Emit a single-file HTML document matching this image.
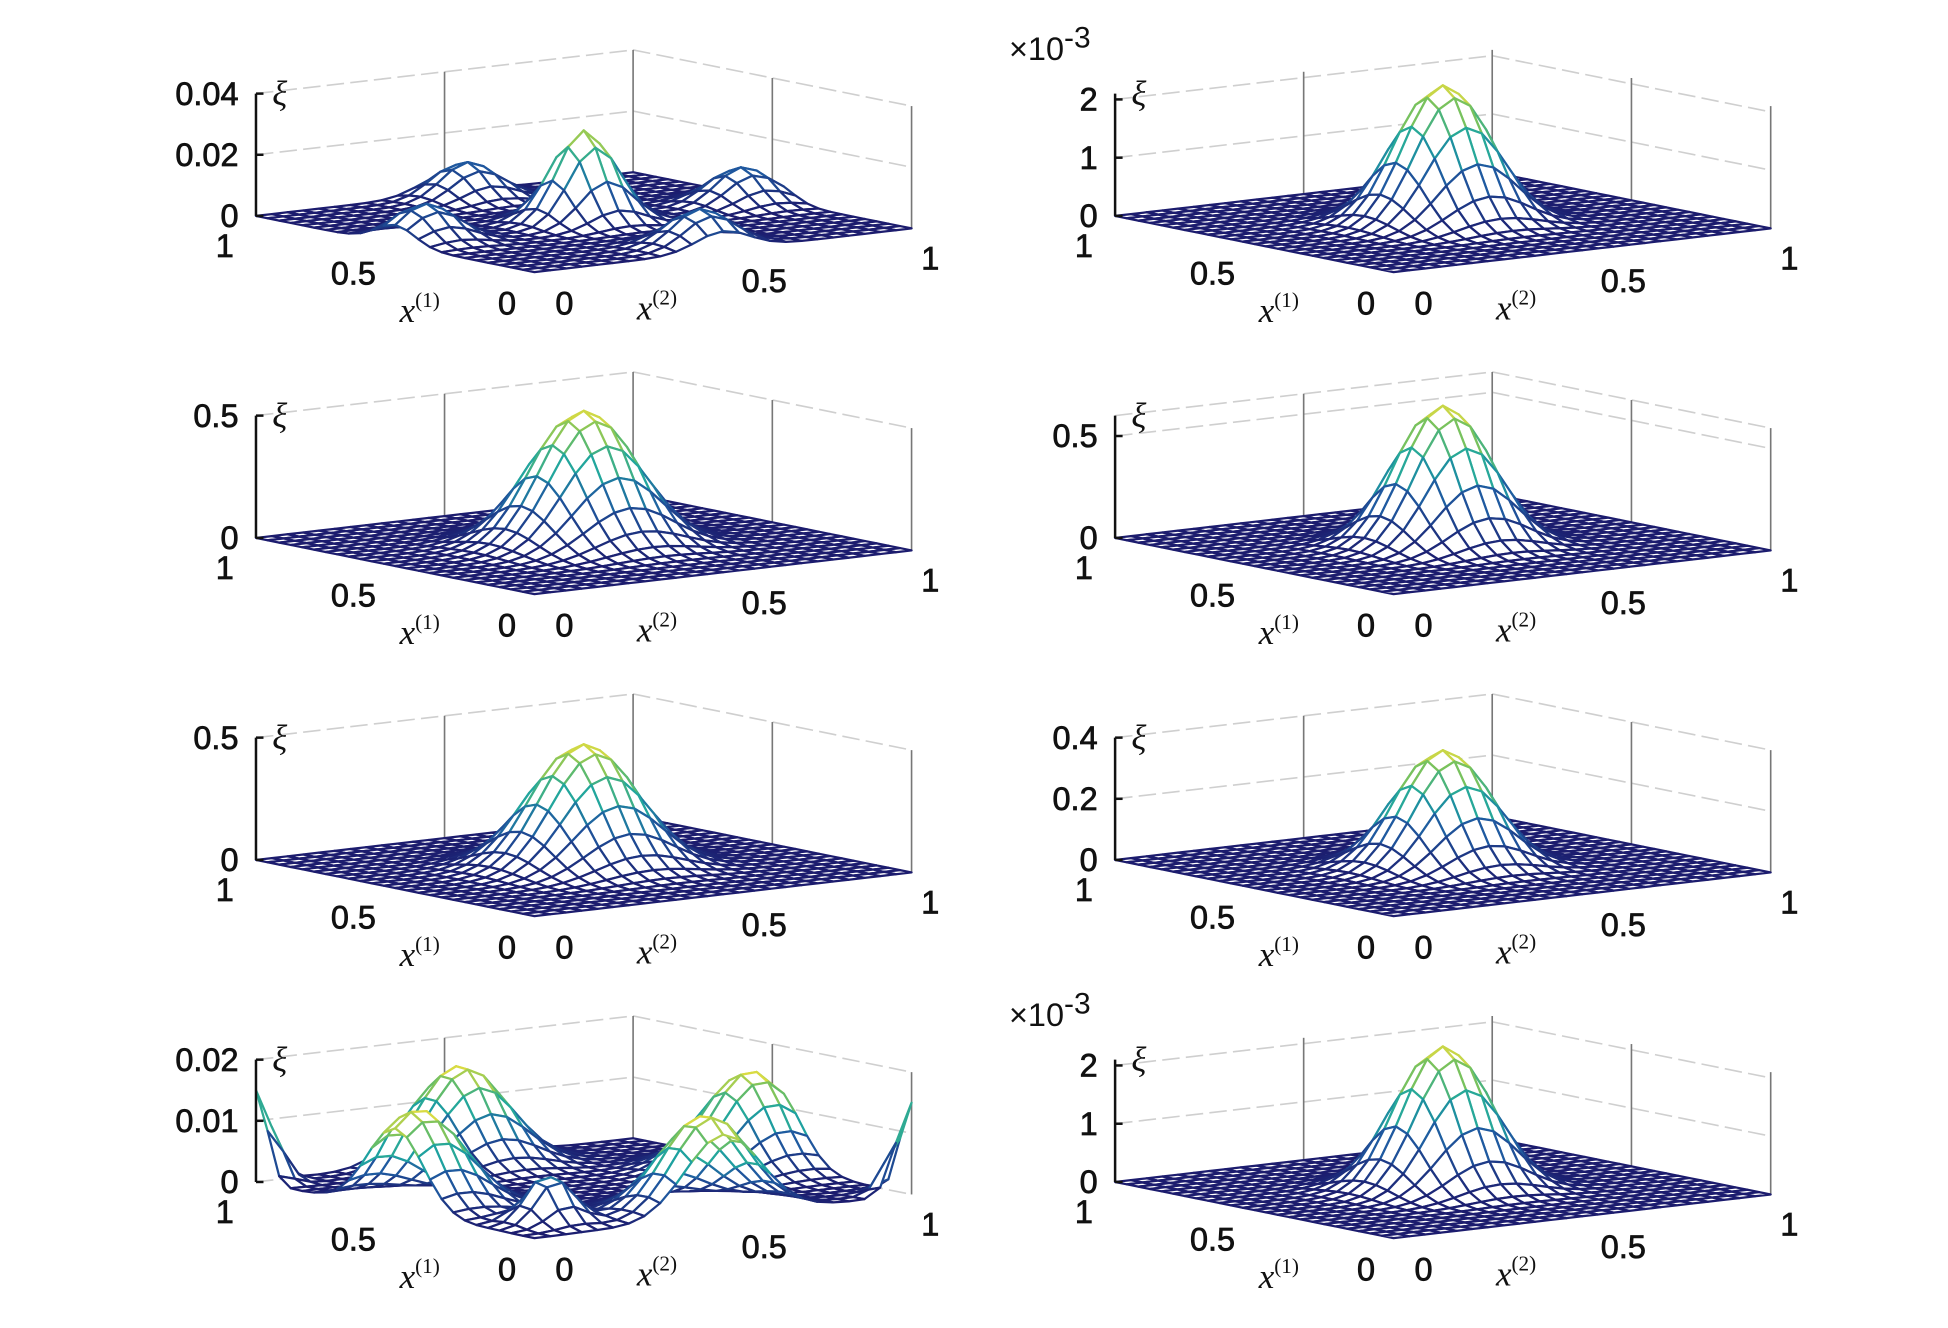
<!DOCTYPE html>
<html><head><meta charset="utf-8"><style>
html,body{margin:0;padding:0;background:#fff;}
svg{display:block;}
text{font-family:"Liberation Sans",sans-serif;}
.tk{font-size:26px;fill:#111;}
.lab{font-family:"Liberation Serif",serif;font-style:italic;font-size:28px;fill:#111;}
.sup{font-family:"Liberation Serif",serif;font-style:normal;font-size:17px;}
</style></head><body>
<svg id="fig" width="1948" height="1328" viewBox="0 0 1560 1064" preserveAspectRatio="none" xmlns="http://www.w3.org/2000/svg"></svg>
<script>
// ---- data per panel (order: L1,R1,L2,R2,L3,R3,L4,R4) ----
const zTops = [0.04, 2.1e-3, 0.5, 0.6, 0.5, 0.4, 0.02, 2.1e-3];
const zTickVals = [[0,0.02,0.04],[0,1e-3,2e-3],[0,0.5],[0,0.5],[0,0.5],[0,0.2,0.4],[0,0.01,0.02],[0,1e-3,2e-3]];
const zTickLabels = [["0","0.02","0.04"],["0","1","2"],["0","0.5"],["0","0.5"],["0","0.5"],["0","0.2","0.4"],["0","0.01","0.02"],["0","1","2"]];
const bumpU = [[0.5,0.5,0.08,0.5,0.92],[0.45,0.45,0.55,0.55],[0.45,0.45,0.55,0.55],[0.45,0.45,0.55,0.55],[0.45,0.45,0.55,0.55],[0.45,0.45,0.55,0.55],[0.5,0.06,0.5,0.94,0.15,1.0,0.0],[0.45,0.45,0.55,0.55]];
const bumpV = [[0.5,0.08,0.5,0.92,0.5],[0.45,0.55,0.45,0.55],[0.45,0.55,0.45,0.55],[0.45,0.55,0.45,0.55],[0.45,0.55,0.45,0.55],[0.45,0.55,0.45,0.55],[0.06,0.5,0.94,0.5,0.15,0.0,1.0],[0.45,0.55,0.45,0.55]];
const bumpA = [[0.03,0.012,0.012,0.012,0.012],[0.83e-3,0.83e-3,0.83e-3,0.83e-3],[0.175,0.175,0.175,0.175],[0.24,0.24,0.24,0.24],[0.16,0.16,0.16,0.16],[0.134,0.134,0.134,0.134],[0.016,0.016,0.016,0.016,0.008,0.015,0.015],[0.86e-3,0.86e-3,0.86e-3,0.86e-3]];
const bumpS = [[0.07,0.07,0.07,0.07,0.07],[0.085,0.085,0.085,0.085],[0.1,0.1,0.1,0.1],[0.085,0.085,0.085,0.085],[0.1,0.1,0.1,0.1],[0.085,0.085,0.085,0.085],[0.1,0.1,0.1,0.1,0.05,0.04,0.04],[0.085,0.085,0.085,0.085]];
const hasExp = [false,true,false,false,false,false,false,true];

const NS="http://www.w3.org/2000/svg";
const svg=document.getElementById('fig');
const N=24, BOXH=98;
const stops=[[0,[28,28,110]],[0.35,[31,90,160]],[0.55,[30,165,160]],[0.78,[112,192,96]],[1,[245,226,58]]];
function cmap(t){t=Math.max(0,Math.min(1,t));for(let i=1;i<stops.length;i++){if(t<=stops[i][0]){const a=stops[i-1],b=stops[i];const f=(t-a[0])/(b[0]-a[0]);const c=a[1].map((v,k)=>Math.round(v+(b[1][k]-v)*f));return`rgb(${c})`;}}return'rgb(245,226,58)';}
function mk(tag,attrs,parent){const e=document.createElementNS(NS,tag);for(const k in attrs)e.setAttribute(k,attrs[k]);parent.appendChild(e);return e;}

for(let p=0;p<8;p++){
  const col=p%2,row=Math.floor(p/2);
  const ox=col*688, oy=row*258;
  const F=[428+ox,218+oy], du=[-223,-45], dv=[302,-35];
  const zTop=zTops[p];
  const g=mk('g',{},svg);
  
  
  const P=(u,v,z)=>[F[0]+u*du[0]+v*dv[0], F[1]+u*du[1]+v*dv[1]-Math.min(z,zTop*1.3)/zTop*BOXH];
  const wg=mk('g',{stroke:'#cfcfcf','stroke-width':1.3,fill:'none'},g);
  
  
  const zl=zTickVals[p].slice();
  if(zTop-zl[zl.length-1]>zTop*0.08) zl.push(zTop);
  zl.forEach(z=>{const a=P(1,0,z),b=P(1,1,z),c=P(0,1,z);mk('polyline',{points:`${a} ${b} ${c}`,'stroke-dasharray':'14 5'},wg);});
  [[1,0.5],[1,1],[0.5,1],[0,1]].forEach(([u,v])=>{const a=P(u,v,0),b=P(u,v,zTop);mk('line',{x1:a[0],y1:a[1],x2:b[0],y2:b[1],stroke:'#777'},wg);});
  const Z=[];
  const bu=bumpU[p],bv=bumpV[p],ba=bumpA[p],bs=bumpS[p];
  let zmax=0;
  for(let i=0;i<=N;i++){Z[i]=[];for(let j=0;j<=N;j++){const u=i/N,v=j/N;let z=0;for(let k=0;k<bu.length;k++){const d=(u-bu[k])**2+(v-bv[k])**2;z+=ba[k]*Math.exp(-d/(2*bs[k]*bs[k]));}Z[i][j]=z;zmax=Math.max(zmax,z);}}
  const quads=[];
  for(let i=0;i<N;i++)for(let j=0;j<N;j++)quads.push([i,j]);
  quads.sort((a,b)=>(b[0]+b[1])-(a[0]+a[1]));
  const sg=mk('g',{fill:'#fff','stroke-width':1.8,'stroke-linejoin':'round'},g);
  
  
  quads.forEach(([i,j])=>{
    const pts=[[i,j],[i+1,j],[i+1,j+1],[i,j+1]].map(([a,b])=>P(a/N,b/N,Z[a][b]));
    const zav=(Z[i][j]+Z[i+1][j]+Z[i+1][j+1]+Z[i][j+1])/4;
    mk('polygon',{points:pts.map(q=>q.join(',')).join(' '),stroke:cmap(zav/zmax)},sg);
  });
  const ag=mk('g',{stroke:'#111','stroke-width':2},g);
  
  
  const a0=P(1,0,0),a1=P(1,0,zTop);
  mk('line',{x1:a0[0],y1:a0[1],x2:a1[0],y2:a1[1]},ag);
  zTickVals[p].forEach((z,k)=>{const q=P(1,0,z);mk('line',{x1:q[0],y1:q[1],x2:q[0]+6,y2:q[1]},ag);
    const t=mk('text',{x:q[0]-14,y:q[1]+9,'text-anchor':'end',class:'tk',stroke:'#111','stroke-width':0.6},g);t.textContent=zTickLabels[p][k];
    
    });
  const xi=mk('text',{x:218+ox,y:84+oy,class:'lab','font-style':'normal'},g);xi.textContent='ξ';
  
  
  if(hasExp[p]){const e=mk('text',{x:808+ox-688,y:48+oy,class:'tk','font-size':28},g);e.innerHTML='×10<tspan dy="-10" font-size="24">-3</tspan>';
    
    }
  const bl=[["1",180,206],["0.5",283,228],["0",406,252],["0",452,252],["0.5",612,234],["1",745,216]];
  bl.forEach(([s,x,y])=>{const t=mk('text',{x:x+ox,y:y+oy,'text-anchor':'middle',class:'tk',stroke:'#111','stroke-width':0.6},g);t.textContent=s;
    
    });
  [["1",320,258],["2",510,256]].forEach(([n,x,y])=>{const t=mk('text',{x:x+ox,y:y+oy,class:'lab'},g);t.innerHTML=`x<tspan class="sup" dy="-12">(${n})</tspan>`;
    
    });
}
</script>
</body></html>
